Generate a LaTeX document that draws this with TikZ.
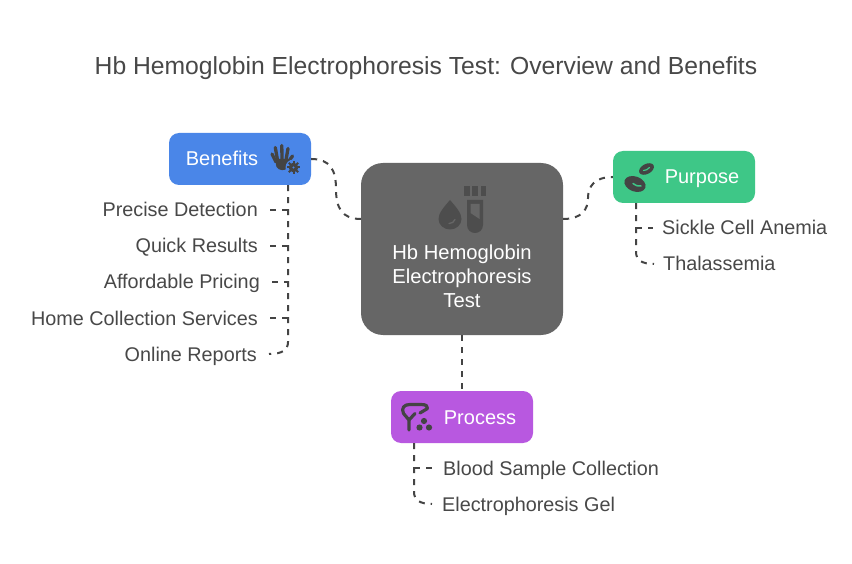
\documentclass[tikz,border=0pt]{standalone}
\usepackage{fontspec}
\setmainfont{Liberation Sans}
\usepackage{tikz}
\definecolor{txt}{HTML}{484848}
\definecolor{ink}{HTML}{444444}
\definecolor{bblue}{HTML}{4A86E8}
\definecolor{bgreen}{HTML}{3EC787}
\definecolor{bpurple}{HTML}{B858E0}
\definecolor{bgrey}{HTML}{666666}
\definecolor{icongrey}{HTML}{4D4D4D}
\tikzset{
  catbox/.style={rectangle,rounded corners=10pt,minimum width=142pt,minimum height=52pt,inner sep=0pt},
  centerbox/.style={rectangle,rounded corners=22pt,fill=bgrey,minimum width=202pt,minimum height=172pt,inner sep=0pt},
  catlabel/.style={inner sep=0pt,text=white,font=\fontsize{20}{22}\selectfont,text height=14pt,text depth=0pt},
  leaf/.style={inner xsep=12pt,inner ysep=0pt,font=\fontsize{19.8}{22}\selectfont,text=txt,text height=14pt,text depth=0pt},
  leafr/.style={leaf,inner xsep=9pt},
  leafp/.style={leaf,inner xsep=10pt},
  conn/.style={draw=ink,line width=2pt,dash pattern=on 6pt off 6pt},
}
\begin{document}
\begin{tikzpicture}[x=1pt,y=-1pt]
\useasboundingbox (0,0) rectangle (852,564);
\fill[white] (0,0) rectangle (852,564);
\node[font=\fontsize{24.7}{28}\selectfont,text=txt,inner sep=0pt,text height=17pt,text depth=0pt] (title) at (426,66) {Hb Hemoglobin Electrophoresis Test: Overview and Benefits};

\node[centerbox] (center) at (462,249) {};
\node[catbox,fill=bblue] (benefits) at (240,159) {};
\node[catbox,fill=bgreen] (purpose) at (684,177) {};
\node[catbox,fill=bpurple] (process) at (462,417) {};

\node[align=center,text=white,font=\fontsize{20.2}{24}\selectfont] (centerlabel) at (462,276) {Hb Hemoglobin\\Electrophoresis\\Test};
\node[catlabel] (benefitslabel) at (222,159) {Benefits};
\node[catlabel] (purposelabel) at (702,177) {Purpose};
\node[catlabel] (processlabel) at (480,417) {Process};

% leaves
\node[leaf,anchor=east] (l1) at (270,210) {Precise Detection};
\node[leaf,anchor=east] (l2) at (270,246) {Quick Results};
\node[leaf,anchor=east] (l3) at (272,282) {Affordable Pricing};
\node[leaf,anchor=east] (l4) at (270,318) {Home Collection Services};
\node[leaf,anchor=east] (l5) at (269,354) {Online Reports};
\node[leafr,anchor=west] (r1) at (653,228) {Sickle Cell Anemia};
\node[leafr,anchor=west] (r2) at (654,264) {Thalassemia};
\node[leafp,anchor=west] (p1) at (433,468) {Blood Sample Collection};
\node[leafp,anchor=west] (p2) at (432,504) {Electrophoresis Gel};

% junctions
\coordinate (bj1) at (288,210);
\coordinate (bj2) at (288,246);
\coordinate (bj3) at (288,282);
\coordinate (bj4) at (288,318);
\coordinate (rj) at (636,228);
\coordinate (pj) at (414,468);

% main connectors
\draw[conn] (benefits.east) .. controls +(19,0) and (336,170) .. (336,189) .. controls (336,208) and (342,219) .. ([yshift=30pt]center.west);
\draw[conn] ([yshift=30pt]center.east) .. controls +(19,0) and (588,209) .. (588,198) .. controls (588,187) and (594,177) .. (purpose.west);
\draw[conn] (center.south) -- (process.north);

% benefits tree
\draw[conn] ([xshift=48pt]benefits.south) -- (288,342) .. controls (288,350) and (282,354) .. (l5.east);
\draw[conn] (l1.east) -- (bj1);
\draw[conn] (l2.east) -- (bj2);
\draw[conn] (l3.east) -- (bj3);
\draw[conn] (l4.east) -- (bj4);

% purpose tree
\draw[conn] ([xshift=-48pt]purpose.south) -- (636,252) .. controls (636,260) and (642,264) .. (r2.west);
\draw[conn] (rj) -- (r1.west);

% process tree
\draw[conn] ([xshift=-48pt]process.south) -- (414,492) .. controls (414,500) and (420,504) .. (p2.west);
\draw[conn] (pj) -- (p1.west);

% hand icon
\begin{scope}[ink,line cap=round,line width=3.3pt]
\fill (275,159) -- (288,159) -- (287.5,168) .. controls (285,171) and (279,171) .. (276.5,167) -- cycle;
\draw (276,162) -- (272,154);
\draw (277.5,160) -- (275.3,147.5);
\draw (282,160) -- (281.8,145.5);
\draw (286,160) -- (288,148.5);
\draw (287.5,163) -- (292.5,156);
\end{scope}
\fill[bblue] (293.5,167.5) circle (8);
\foreach \a in {0,45,...,315}{\draw[ink,line width=2pt] (293.5,167.5) -- ++(\a:6.6);}
\fill[ink] (293.5,167.5) circle (4.8);
\fill[bblue] (293.5,167.5) circle (1.2);

% drop and tube icon
\fill[icongrey] (450,200) .. controls (456,207) and (461.5,213) .. (461.5,219) .. controls (461.5,225) and (456,229.5) .. (450,229.5) .. controls (444,229.5) and (438.5,225) .. (438.5,219) .. controls (438.5,213) and (444,207) .. (450,200) -- cycle;
\draw[bgrey,line width=1.3pt,line cap=round] (449,223.5) .. controls (452,223.5) and (454,222) .. (455,219.5);
\fill[icongrey] (463.5,186) rectangle (469.5,196);
\fill[icongrey] (472,186) rectangle (478,196);
\fill[icongrey] (480.5,186) rectangle (486,196);
\fill[icongrey] (467,200) -- (483,200) -- (483,225) .. controls (483,230) and (479,233) .. (475,233) .. controls (471,233) and (467,230) .. (467,225) -- cycle;
\fill[bgrey] (470.5,204) -- (479.5,204) -- (479.5,219) -- (470.5,213) -- cycle;

% blood cell icon
\fill[ink,rotate around={-20:(635,184)}] (635,184) ellipse (11 and 7.5);
\draw[bgreen,line width=1.5pt,line cap=round] (633,183.5) .. controls (635,185.5) and (638,186.5) .. (641,186);
\fill[ink,rotate around={28:(646.5,169)}] (646.5,169) ellipse (8 and 5);
\draw[bgreen,line width=1.2pt,line cap=round] (643.5,170.5) .. controls (645.5,170.5) and (648,169.5) .. (649.5,167.5);

% process icon
\begin{scope}[ink,line width=3.2pt,line cap=round,line join=round]
\draw (409,430) -- (409,420) -- (403.5,413.5);
\draw (409,420) -- (415,413.5);
\draw (403.5,413.5) .. controls (401,408) and (404,404.5) .. (410,404.5) -- (421,404.5) .. controls (426,404.5) and (428,406) .. (427.5,408.5) -- (420,413);
\end{scope}
\fill[ink] (424,421) circle (3.1) (419.5,427.5) circle (3.1) (429,427.5) circle (3.1);
\end{tikzpicture}
\end{document}
